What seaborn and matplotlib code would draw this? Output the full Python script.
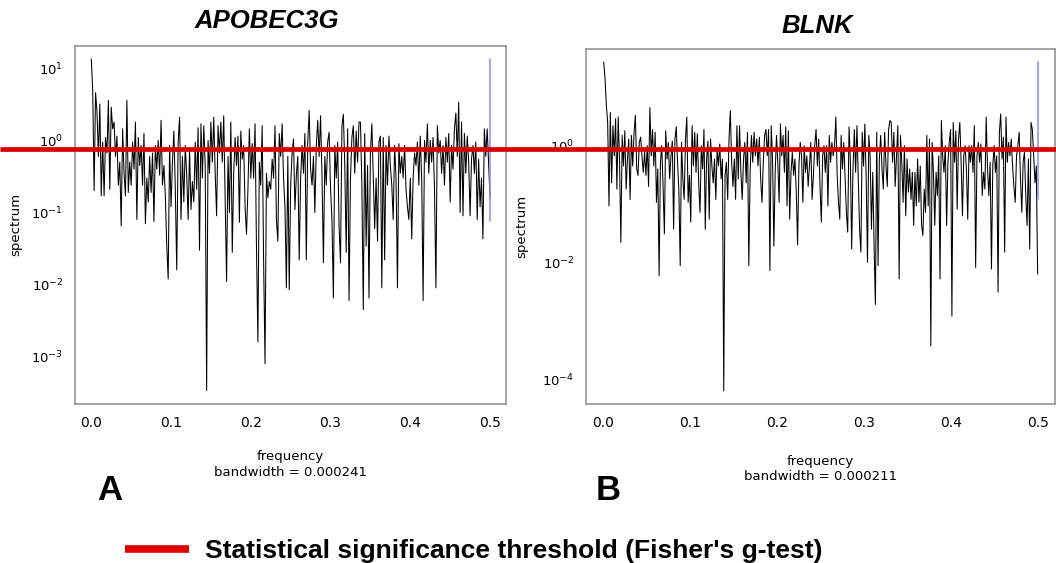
import numpy as np
import matplotlib
matplotlib.use("Agg")
import matplotlib.pyplot as plt
from matplotlib.lines import Line2D
from matplotlib.ticker import NullLocator, FormatStrFormatter
import seaborn as sns

# periodogram values (left to right)
spec_a = [
    13.5, 5.0, 0.2, 4.6, 2.5, 0.6, 3.2, 0.17, 0.95, 0.17, 1.1, 0.67, 3.6, 0.21, 2.9, 1.45,
    1.8, 0.6, 1.15, 0.24, 0.5, 0.065, 1.45, 0.35, 0.17, 3.6, 0.19, 0.5, 0.24, 0.95, 0.4, 1.8,
    0.08, 1.1, 0.45, 0.85, 0.24, 1.25, 0.07, 0.3, 0.14, 0.6, 0.19, 0.67, 0.075, 0.85, 0.4, 1.0,
    0.33, 1.9, 0.24, 0.45, 0.17, 0.034, 0.012, 0.85, 0.12, 0.5, 1.35, 0.21, 0.016, 0.95, 2.1,
    0.08, 0.6, 0.14, 0.85, 0.33, 0.08, 0.75, 0.11, 0.27, 0.14, 0.95, 0.21, 1.5, 0.03, 1.7, 0.3,
    1.6, 0.45, 0.00034, 1.0, 0.35, 1.8, 0.5,
    2.1, 0.35, 0.09, 1.6, 0.67, 1.8, 0.5, 2.2, 0.17, 0.011, 0.6, 0.1, 1.8, 0.028, 0.35, 1.1,
    0.45, 1.15, 0.073, 1.35, 0.55, 0.85, 0.12, 0.05, 0.21, 1.45, 0.3, 0.9, 0.3, 1.7, 0.032,
    0.0016, 0.5, 0.24, 1.6, 0.022, 0.0008, 0.35, 0.16, 0.27, 0.21, 0.55, 0.3, 1.6, 0.08, 0.04,
    1.25, 0.6, 1.7, 0.3, 0.12, 0.009, 0.6, 0.0085, 0.24, 0.67, 1.05, 0.11, 0.33, 0.6, 0.022,
    0.3, 0.85, 0.35, 1.25, 0.022, 0.95, 2.6, 0.4, 0.24, 0.6, 0.1, 0.85, 1.9, 0.6, 2.2, 0.33,
    0.02, 0.6, 0.24, 0.95, 1.3, 0.21, 0.08, 0.0065, 0.85, 0.3, 0.95, 0.065, 0.02, 1.6, 2.3,
    0.45, 0.028, 1.45, 0.006, 0.3, 1.1, 1.6, 0.35, 1.35, 0.5, 1.8,
    1.8, 0.24, 0.0045, 1.25, 0.034, 0.45, 0.0065, 0.67, 1.7, 0.3, 0.06, 0.3, 0.04, 0.95, 1.15,
    0.009, 1.1, 0.022, 0.85, 0.24, 1.15, 0.45, 0.24, 0.08, 0.85, 0.3, 0.009, 0.9, 0.35, 0.6,
    0.3, 0.85, 0.21, 0.12, 0.08, 0.3, 0.043, 0.3, 0.67, 0.45, 0.95, 0.24, 1.15, 0.3, 0.006,
    1.0, 0.5, 1.7, 0.35, 1.0, 0.5, 1.1, 0.21, 0.009, 1.6, 0.67, 1.0, 0.35, 0.85, 0.24, 1.1,
    0.5, 1.25, 0.14, 0.85, 0.4, 1.45, 2.4, 0.6, 3.4, 0.1, 1.8, 0.09, 1.25, 0.35, 1.15, 0.5,
    0.09, 0.55, 0.85, 0.35, 0.95, 0.08, 0.55, 0.12, 0.3, 0.043, 1.45, 0.6, 1.45, 0.5, 0.16,
]

spec_b = [
    27.0, 14.0, 4.9, 2.5, 0.093, 3.7, 0.23, 2.2, 0.67, 2.9, 0.18, 3.1, 0.52, 0.022, 1.5, 0.45,
    1.8, 0.18, 0.59, 1.3, 0.12, 1.5, 0.45, 1.7, 3.3, 0.4, 0.31, 1.14, 1.4, 0.67, 0.35, 0.77,
    0.31, 1.0, 0.2, 4.5, 0.67, 1.9, 0.45, 1.7, 0.107, 0.4, 0.0059, 0.52, 1.0, 0.2, 0.031, 1.8,
    0.59, 1.14, 0.27, 0.67, 1.2, 0.037, 1.3, 2.1, 0.52, 0.16, 0.0088, 1.14, 0.27, 0.12, 1.3,
    3.1, 0.107, 0.31, 0.049, 2.2, 0.45, 1.7, 0.35, 1.6, 0.23, 0.072, 1.0, 0.4, 1.9, 0.037,
    0.59, 1.2, 0.055, 1.3, 0.45, 0.23, 0.59, 0.12, 0.87, 0.45, 1.07, 0.27, 0.59, 0.000063,
    0.31, 0.52, 0.12, 1.3, 4.0, 0.52, 0.2, 0.59, 0.12, 2.2, 0.27,
    2.2, 0.35, 0.12, 0.59, 1.14, 0.23, 1.7, 0.0088, 0.35, 1.5, 0.52, 1.7, 0.67, 1.3, 0.45,
    1.4, 0.27, 0.107, 0.52, 1.5, 1.9, 0.67, 1.9, 0.0072, 2.2, 0.59, 0.019, 0.35, 1.5, 0.52,
    0.107, 2.35, 0.67, 1.5, 0.35, 2.1, 0.093, 1.8, 0.055, 0.35, 0.77, 0.31, 0.59, 0.16, 0.02,
    0.45, 1.14, 0.67, 0.107, 1.0, 0.35, 0.67, 0.2, 0.45, 1.14, 0.12, 0.31, 1.0, 1.9, 0.45,
    1.3, 0.2, 0.049, 0.67, 1.0, 0.35, 1.0, 0.093, 1.5, 0.52, 1.14, 0.67, 1.0, 3.1, 0.31,
    0.107, 0.055, 1.5, 0.4, 1.14, 0.27, 0.072, 0.033, 2.1, 0.59, 0.017, 0.4, 1.9, 0.35, 2.2,
    0.27, 0.037, 0.015, 1.7, 0.45, 2.35, 0.27, 0.01, 1.5, 0.67, 0.037, 0.35, 0.019, 0.0019,
    1.7, 0.0088, 0.59, 1.5, 0.4, 0.18, 1.7, 0.45, 0.2, 1.9, 2.7,
    2.5, 0.52, 1.7, 0.2, 0.67, 2.2, 0.0052, 1.5, 0.52, 0.107, 1.0, 0.063, 0.59, 0.16, 0.4,
    0.12, 0.35, 0.043, 0.35, 0.093, 0.59, 0.107, 0.45, 0.043, 0.029, 0.18, 0.072, 1.5, 0.093,
    1.3, 0.00037, 1.14, 0.35, 0.043, 0.35, 0.14, 0.67, 0.0052, 2.7, 0.67, 0.35, 1.0, 0.043,
    0.52, 1.14, 1.9, 0.0012, 2.5, 0.52, 1.8, 0.082, 1.3, 2.5, 0.52, 0.063, 0.67, 1.0, 0.4,
    0.055, 1.0, 0.52, 1.0, 0.35, 2.2, 0.0082, 0.67, 1.14, 0.52, 1.07, 0.14, 0.35, 0.18, 3.1,
    0.4, 0.14, 0.52, 0.0077, 0.45, 1.0, 0.35, 0.67, 0.0031, 1.7, 3.5, 0.59, 1.4, 0.015, 3.1,
    0.52, 1.14, 0.67, 1.3, 0.45, 0.2, 0.107, 0.67, 1.0, 1.7, 0.27, 0.072, 0.52, 0.77, 0.14,
    0.043, 0.59, 0.017, 2.5, 1.9, 0.67, 0.23, 0.45, 0.0063,
]

# confidence bars (blue) and Fisher's g-test threshold
ci_a = [0.076, 13.5]
ci_b = [0.12, 27.0]
threshold = 0.75

titles = ["APOBEC3G", "BLNK"]
tags = ["A", "B"]
bandwidths = ["0.000241", "0.000211"]
xticks = [0.0, 0.1, 0.2, 0.3, 0.4, 0.5]
yticks_a = [1e1, 1e0, 1e-1, 1e-2, 1e-3]
yticks_b = [1e0, 1e-2, 1e-4]
legend_label = "Statistical significance threshold (Fisher's g-test)"

freq_a = np.linspace(0.0004, 0.5, len(spec_a))
freq_b = np.linspace(0.0004, 0.5, len(spec_b))

RED = "#dd0000"
FRAME = "#8c8c8c"
ARIAL = ["Liberation Sans", "DejaVu Sans"]

sns.set_style("white")
plt.rcParams["font.family"] = ["DejaVu Sans"]
plt.rcParams["text.color"] = "black"
plt.rcParams["axes.labelcolor"] = "black"
plt.rcParams["xtick.labelcolor"] = "black"
plt.rcParams["ytick.labelcolor"] = "black"


def r_range(lo, hi):
    # R pads the data range by 4% on each side
    d = (hi - lo) * 0.04
    return lo - d, hi + d


fig = plt.figure(figsize=(10.56, 5.63), dpi=100)
ax_a = fig.add_axes([75 / 1056, 1 - 403.7 / 563, 431 / 1056, 358 / 563])
ax_b = fig.add_axes([586 / 1056, 1 - 404 / 563, 469 / 1056, 355 / 563])

panels = [
    (ax_a, freq_a, spec_a, ci_a, yticks_a, 15, 6.5, (0.445, 1.069)),
    (ax_b, freq_b, spec_b, ci_b, yticks_b, 18, 10, (0.4925, 1.066)),
]

for i, (ax, fr, sp, ci, yt, xpad, ypad, tpos) in enumerate(panels):
    sns.lineplot(x=fr, y=sp, ax=ax, color="black", lw=0.75, estimator=None, sort=False)
    ax.plot([fr[-1], fr[-1]], ci, color="#8a8aff", lw=1.1)
    ax.set_yscale("log")

    ax.set_xlim(*r_range(0, 0.5))
    lo, hi = r_range(np.log10(min(sp)), np.log10(max(sp)))
    ax.set_ylim(10 ** lo, 10 ** hi)

    ax.set_xticks(xticks)
    ax.xaxis.set_major_formatter(FormatStrFormatter("%.1f"))
    ax.set_yticks(yt)
    ax.yaxis.set_minor_locator(NullLocator())
    ax.tick_params(axis="both", which="major", direction="out", length=6.5, width=1,
                   color=FRAME, labelcolor="black", pad=2)
    ax.tick_params(axis="x", labelsize=10)
    ax.tick_params(axis="y", labelsize=9.5)
    for s in ax.spines.values():
        s.set_color(FRAME)
        s.set_linewidth(1.1)

    ax.set_xlabel("frequency\nbandwidth = " + bandwidths[i], fontsize=9.5,
                  linespacing=1.25, labelpad=xpad, color="black")
    ax.set_ylabel("spectrum", fontsize=9.5, labelpad=ypad, color="black")
    ax.set_title(titles[i], x=tpos[0], y=tpos[1], pad=0, va="center", fontsize=18.5,
                 fontweight="bold", fontstyle="italic", family=ARIAL, color="black")

fig.text(110 / 1056, 1 - 491 / 563, tags[0], ha="center", va="center", fontsize=25,
         fontweight="bold", family=ARIAL, color="black")
fig.text(608 / 1056, 1 - 491 / 563, tags[1], ha="center", va="center", fontsize=25,
         fontweight="bold", family=ARIAL, color="black")

# threshold line runs across the whole figure at panel A's threshold level
y_disp = ax_a.transData.transform((0.25, threshold))[1]
y_fig = fig.transFigure.inverted().transform((0, y_disp))[1]
fig.add_artist(Line2D([0, 1], [y_fig, y_fig], transform=fig.transFigure, color=RED, lw=3.4,
                      solid_capstyle="butt"))

leg = fig.legend(handles=[Line2D([], [], color=RED, lw=5.5, solid_capstyle="butt")],
                 labels=[legend_label], loc="center left",
                 bbox_to_anchor=(125 / 1056, 1 - 551 / 563), frameon=False,
                 handlelength=2.43, handletextpad=0.59, borderpad=0, borderaxespad=0,
                 prop=dict(family=ARIAL, weight="bold", size=19))
for t in leg.get_texts():
    t.set_color("black")

fig.savefig("out.png", dpi=100)
